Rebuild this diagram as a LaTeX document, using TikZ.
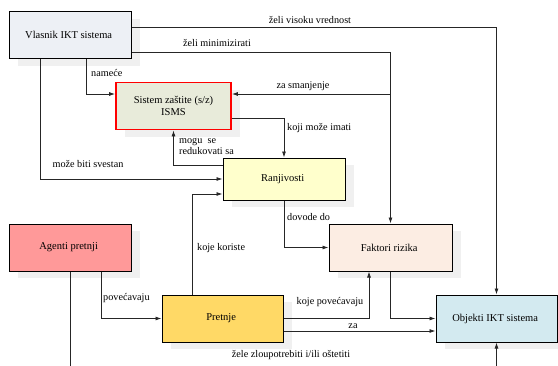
\documentclass[tikz,border=0pt]{standalone}
\usepackage{fontspec}
\setmainfont{Liberation Serif}
\usetikzlibrary{arrows.meta,shadows}
\definecolor{vlasnikfill}{HTML}{EDF0F5}
\definecolor{sistemfill}{HTML}{E8EBDA}
\definecolor{ranjfill}{HTML}{FFFFCC}
\definecolor{agentifill}{HTML}{FF9999}
\definecolor{pretnjefill}{HTML}{FFD966}
\definecolor{faktorifill}{HTML}{FCEDE3}
\definecolor{objektifill}{HTML}{D3EAF0}
\tikzset{
  box/.style={draw=black,line width=1pt,minimum width=122pt,minimum height=47pt,
    align=center,font=\fontsize{10.5}{12}\selectfont,
    drop shadow={shadow xshift=9pt,shadow yshift=-7pt,fill=gray!12,opacity=1}},
  conn/.style={draw=black!85,line width=0.8pt,-{Latex[length=6pt,width=4pt]}},
  lbl/.style={inner sep=0pt,font=\fontsize{10.2}{11}\selectfont,align=left},
}
\begin{document}
\begin{tikzpicture}[x=1pt,y=-1pt]
      \useasboundingbox (0,0) rectangle (558,365);
      \clip (0,0) rectangle (558,365);
      \node[box,fill=vlasnikfill] (vlasnik) at (70,35) { Vlasnik IKT sistema };
      \node[box,fill=sistemfill,draw=red,line width=1.8pt,minimum width=115pt] (sistem) at (173.5,106) { Sistem zaštite (s/z)\\ISMS };
      \node[box,fill=ranjfill,minimum height=42pt] (ranj) at (284,179) { Ranjivosti };
      \node[box,fill=agentifill] (agenti) at (70,247.5) { Agenti pretnji };
      \node[box,fill=pretnjefill,minimum width=121pt] (pretnje) at (222.5,318.5) { Pretnje };
      \node[box,fill=faktorifill,minimum width=123pt] (faktori) at (390.5,247.5) { Faktori rizika };
      \node[box,fill=objektifill,minimum width=121pt] (objekti) at (496.5,318.5) { Objekti IKT sistema };

      \path[conn] (vlasnik.east |- 0,27) -| (objekti.north);
      \path[conn] (vlasnik.east |- 0,52) -| (faktori.north);
      \path[conn] (faktori.north |- 0,94) -- (sistem.east |- 0,94);
      \path[conn] (sistem.east |- 0,118) -| (ranj.north);
      \path[conn] (vlasnik.south -| 86,0) |- (sistem.west |- 0,94);
      \path[conn] (vlasnik.south -| 40,0) |- (ranj.west);
      \path[conn] (ranj.west |- 0,165) -| (sistem.south);
      \path[conn] (pretnje.north -| 192,0) |- (ranj.west |- 0,194);
      \path[conn] (agenti.south -| 101,0) |- (pretnje.west);
      \path[conn] (agenti.south) -- (70,385) -| (objekti.south);
      \path[conn] (ranj.south) |- (faktori.west);
      \path[conn] (pretnje.east) -| (faktori.south -| 369,0);
      \path[conn] (faktori.south) |- (objekti.west);
      \path[conn] (pretnje.east |- 0,331) -- (objekti.west |- 0,331);

      \node[lbl] (l-vrednost) at (310,20) {želi visoku vrednost};
      \node[lbl] (l-minim) at (217,43) {želi minimizirati};
      \node[lbl] (l-smanj) at (303,86) {za smanjenje};
      \node[lbl,anchor=west] (l-imati) at (287,128) {koji može imati};
      \node[lbl,anchor=west] (l-namece) at (91,73) {nameće};
      \node[lbl] (l-svestan) at (88,164) {može biti svestan};
      \node[lbl,anchor=north west] (l-mogu) at (179,138) {mogu\ \ se\\redukovati sa};
      \node[lbl,anchor=west] (l-koriste) at (197,248) {koje koriste};
      \node[lbl,anchor=west] (l-povec) at (103,298) {povećavaju};
      \node[lbl,anchor=west] (l-dovode) at (287,217) {dovode do};
      \node[lbl] (l-kojepovec) at (330,302) {koje povećavaju};
      \node[lbl] (l-za) at (353,326) {za};
      \node[lbl] (l-zele) at (291,355) {žele zloupotrebiti i/ili oštetiti};
\end{tikzpicture}
\end{document}
